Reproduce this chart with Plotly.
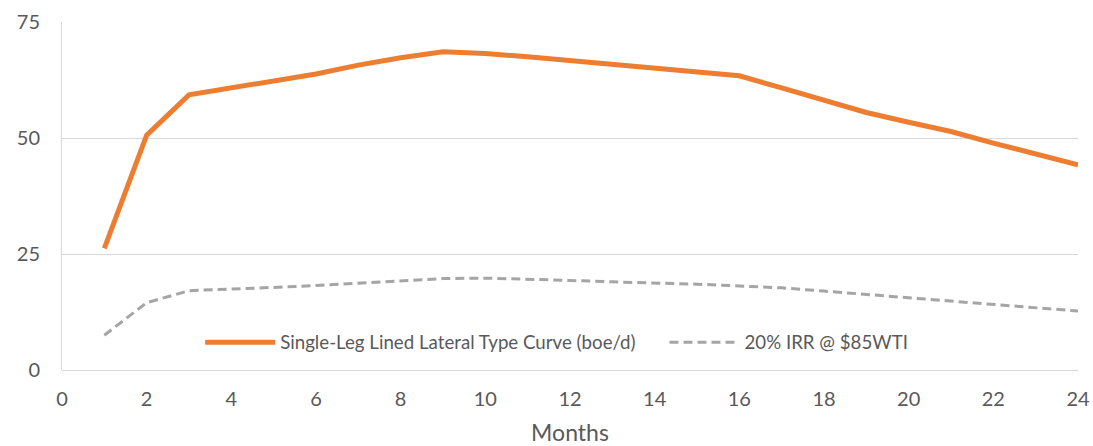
import plotly.graph_objects as go

months = list(range(1, 25))
type_curve = [26.2, 50.6, 59.3, 60.8, 62.1, 63.8, 65.7, 67.3, 68.6, 68.2, 67.5, 66.7,
              65.7, 64.9, 64.2, 63.4, 60.8, 58.2, 55.5, 53.4, 51.4, 48.9, 46.6, 44.2]
irr_curve = [7.5, 14.5, 17.1, 17.4, 17.8, 18.2, 18.7, 19.2, 19.7, 19.8, 19.6, 19.3,
             19.0, 18.8, 18.5, 18.1, 17.7, 17.0, 16.3, 15.6, 14.9, 14.2, 13.5, 12.7]
x_ticks = list(range(0, 25, 2))
y_ticks = [0, 25, 50, 75]

FONT = "Lato"
TXT = "#595959"
PAD = "\u00a0" * 5

fig = go.Figure()
fig.add_trace(go.Scatter(x=months, y=type_curve, mode="lines",
                         name="Single-Leg Lined Lateral Type Curve (boe/d)" + PAD,
                         line=dict(color="#ED7D31", width=5)))
fig.add_trace(go.Scatter(x=months, y=irr_curve, mode="lines",
                         name="20% IRR @ $85WTI",
                         line=dict(color="#A5A5A5", width=3, dash="9px,5px")))

fig.update_layout(
    width=1093, height=446,
    margin=dict(l=62, r=15, t=22, b=76),
    paper_bgcolor="white", plot_bgcolor="white",
    font=dict(family=FONT, color=TXT),
    showlegend=True,
    legend=dict(orientation="h", x=0.136, xanchor="left", y=0.079, yanchor="middle",
                font=dict(size=18.7, color=TXT, family=FONT), itemwidth=70,
                bgcolor="rgba(0,0,0,0)", traceorder="normal"),
    xaxis=dict(range=[0, 24], tickvals=x_ticks, ticktext=[str(v) for v in x_ticks],
               showgrid=False, zeroline=False, showline=False, ticks="",
               automargin=False,
               tickfont=dict(size=20, color=TXT), ticklabelstandoff=15,
               title=dict(text="Months", font=dict(size=23, color=TXT), standoff=17)),
    yaxis=dict(range=[0, 75], tickvals=y_ticks, ticktext=[str(v) for v in y_ticks],
               showgrid=True, gridcolor="#D9D9D9", gridwidth=1,
               zeroline=True, zerolinecolor="#D9D9D9", zerolinewidth=1,
               showline=True, linecolor="#D9D9D9", linewidth=1, ticks="",
               automargin=False,
               tickfont=dict(size=20, color=TXT), ticklabelstandoff=17),
)

fig.write_html("out.html")
